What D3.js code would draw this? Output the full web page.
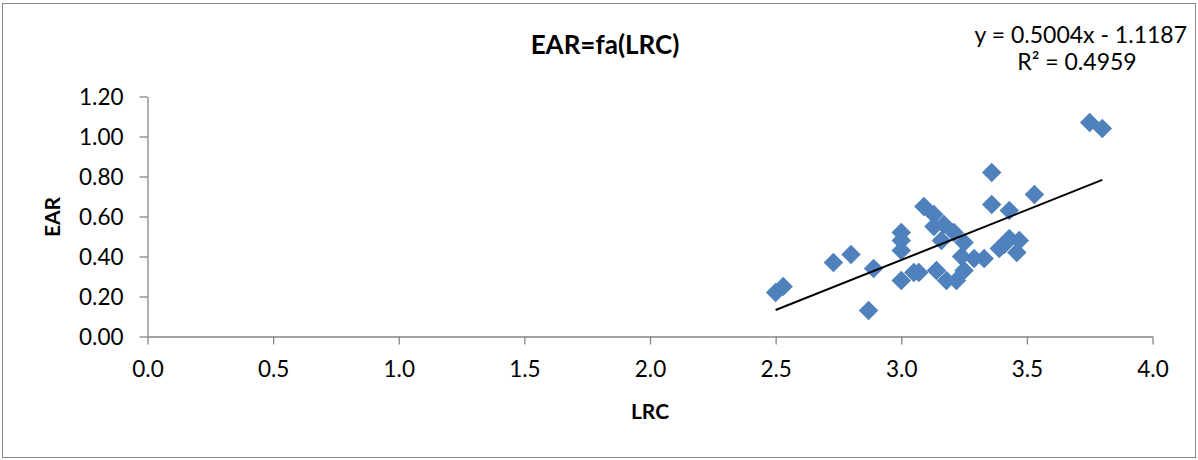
<!DOCTYPE html>
<html>
<head>
<meta charset="utf-8">
<script src="https://cdn.jsdelivr.net/npm/d3@7"></script>
<style>
    body { margin: 0; background: #fff; }
    svg { display: block; font-family: Lato, "Open Sans", sans-serif; }
</style>
</head>
<body>
<svg id="chart" width="1198" height="460"></svg>
<script>
// LRC values (x) and EAR values (y)
var lrc = [2.50, 2.53, 2.73, 2.80, 2.89, 2.87,
    3.00, 3.00, 3.00, 3.00, 3.05, 3.07,
    3.09, 3.13, 3.17, 3.13, 3.21, 3.16, 3.25,
    3.14, 3.18, 3.22, 3.25, 3.24, 3.29, 3.33,
    3.36, 3.36, 3.43, 3.53, 3.39, 3.43, 3.47, 3.46, 3.41,
    3.75, 3.80];
var ear = [0.22, 0.25, 0.37, 0.41, 0.34, 0.13,
    0.52, 0.48, 0.43, 0.28, 0.32, 0.32,
    0.65, 0.61, 0.56, 0.55, 0.52, 0.48, 0.47,
    0.33, 0.28, 0.28, 0.33, 0.40, 0.39, 0.39,
    0.82, 0.66, 0.63, 0.71, 0.44, 0.49, 0.48, 0.42, 0.46,
    1.07, 1.04];
var xTicks = [0, 0.5, 1, 1.5, 2, 2.5, 3, 3.5, 4];
var yTicks = [0, 0.2, 0.4, 0.6, 0.8, 1.0, 1.2];
var slope = 0.5004, intercept = -1.1187;
var trendRange = [2.5, 3.8];

var svg = d3.select("#chart");

// outer chart border
svg.append("rect")
    .attr("x", 2.5).attr("y", 3.5)
    .attr("width", 1193).attr("height", 454)
    .attr("fill", "#fff").attr("stroke", "#868686").attr("stroke-width", 1);

var x = d3.scaleLinear().domain([0, 4]).range([147.5, 1152.5]);
var y = d3.scaleLinear().domain([0, 1.2]).range([336.5, 96.5]);

var xAxis = svg.append("g")
    .attr("transform", "translate(0," + y(0) + ")")
    .call(d3.axisBottom(x).tickValues(xTicks).tickSizeInner(8).tickSizeOuter(0).tickPadding(17)
        .tickFormat(d3.format(".1f")));
var yAxis = svg.append("g")
    .attr("transform", "translate(" + x(0) + ",0)")
    .call(d3.axisLeft(y).tickValues(yTicks).tickSizeInner(8).tickSizeOuter(0).tickPadding(16)
        .tickFormat(d3.format(".2f")));

[xAxis, yAxis].forEach(function (g) {
    g.select(".domain").attr("stroke", "#868686").attr("stroke-width", 1.3);
    g.selectAll(".tick line").attr("stroke", "#868686").attr("stroke-width", 1.3);
    g.selectAll(".tick text")
        .attr("fill", "#000")
        .attr("font-size", "22.5px")
        .attr("font-family", "Lato, 'Open Sans', sans-serif");
});
yAxis.selectAll(".tick text").attr("dy", "0.35em");

// points
var pts = lrc.map(function (v, i) { return { x: v, y: ear[i] }; });
svg.append("g").selectAll("path")
    .data(pts).enter().append("path")
    .attr("d", d3.symbol().type(d3.symbolSquare).size(190))
    .attr("transform", function (d) {
        return "translate(" + x(d.x) + "," + y(d.y) + ") rotate(45)";
    })
    .attr("fill", "#4f81bd");

// linear trendline
svg.append("line")
    .attr("x1", x(trendRange[0])).attr("y1", y(slope * trendRange[0] + intercept))
    .attr("x2", x(trendRange[1])).attr("y2", y(slope * trendRange[1] + intercept))
    .attr("stroke", "#000").attr("stroke-width", 2);

// title
svg.append("text")
    .attr("x", 605).attr("y", 54)
    .attr("text-anchor", "middle")
    .attr("font-size", "26px").attr("font-weight", "bold")
    .text("EAR=fa(LRC)");

// axis titles
svg.append("text")
    .attr("x", 650).attr("y", 419)
    .attr("text-anchor", "middle")
    .attr("font-size", "21px").attr("font-weight", "bold")
    .text("LRC");
svg.append("text")
    .attr("transform", "translate(60,217) rotate(-90)")
    .attr("text-anchor", "middle")
    .attr("font-size", "21px").attr("font-weight", "bold")
    .text("EAR");

// equation label
svg.append("text")
    .attr("x", 1187).attr("y", 43)
    .attr("text-anchor", "end")
    .attr("font-size", "23px")
    .text("y = 0.5004x - 1.1187");
svg.append("text")
    .attr("x", 1077).attr("y", 70)
    .attr("text-anchor", "middle")
    .attr("font-size", "23px")
    .text("R² = 0.4959");
</script>
</body>
</html>
